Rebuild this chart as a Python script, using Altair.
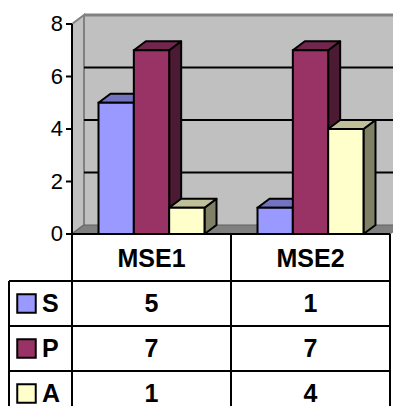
import altair as alt
import pandas as pd

# ---- data ----
categories = ["MSE1", "MSE2"]
series = ["S", "P", "A"]
s_values = [5, 1]
p_values = [7, 7]
a_values = [1, 4]
y_ticks = [0, 2, 4, 6, 8]
grid_values = [2, 4, 6]

values = {"S": s_values, "P": p_values, "A": a_values}

# ---- styles ----
front_colors = {"S": "#9999FF", "P": "#993366", "A": "#FFFFCC"}
top_colors = {"S": "#7373BF", "P": "#73264D", "A": "#BFBF99"}
side_colors = {"S": "#4D4D80", "P": "#4D1A33", "A": "#808066"}
FONT = "Liberation Sans"

# ---- layout (page pixel frame) ----
W, H = 385, 398
K = 26.25          # px per value unit
Y0 = 234           # page y of value 0
PLOT_L, PLOT_R = 72, 390
DX, DY = 12, 9     # 3-D depth in px
COL_W = (PLOT_R - PLOT_L) / len(categories)
BW = 35.33
TABLE_L = 9
HEADER_TOP = 234
HEADER_BOT = 281
ROW_H = 45


def yv(ypx):
    return (Y0 - ypx) / K


D = DY / K
TOPV = max(y_ticks)

xs = alt.Scale(domain=[8, 8 + W], nice=False, zero=False)
ys = alt.Scale(domain=[yv(8 + H), yv(8)], nice=False, zero=False)


def X(f="x"):
    return alt.X(f"{f}:Q", scale=xs, axis=None)


def Y(f="y"):
    return alt.Y(f"{f}:Q", scale=ys, axis=None)


# ---- walls ----
back = alt.Chart(pd.DataFrame([{"x": PLOT_L + DX, "x2": PLOT_R + DX + 20, "y": D, "y2": TOPV + D}])).mark_rect(
    color="#C0C0C0").encode(x=X(), x2="x2:Q", y=Y(), y2="y2:Q")

left_wall = alt.Chart(pd.DataFrame([
    {"x": PLOT_L, "y": TOPV, "y2": 0},
    {"x": PLOT_L + DX, "y": TOPV + D, "y2": D},
])).mark_area(orient="vertical", color="#C0C0C0", stroke="#808080", strokeWidth=2).encode(
    x=X(), y=Y(), y2="y2:Q")

floor = alt.Chart(pd.DataFrame([
    {"y": 0, "x": PLOT_L, "x2": PLOT_R},
    {"y": D, "x": PLOT_L + DX, "x2": PLOT_R + DX},
])).mark_area(orient="horizontal", color="#808080", stroke="#606060", strokeWidth=1).encode(
    y=Y(), x=X(), x2="x2:Q")

wall_top = alt.Chart(pd.DataFrame([{"x": PLOT_L + DX, "x2": PLOT_R + DX + 20, "y": TOPV + D}])).mark_rule(
    color="#808080", strokeWidth=3).encode(x=X(), x2="x2:Q", y=Y())

grid = alt.Chart(pd.DataFrame({"v": grid_values})).transform_calculate(
    y=f"datum.v + {D}", x=f"{PLOT_L + DX}", x2=f"{PLOT_R + DX + 20}"
).mark_rule(color="black", strokeWidth=2).encode(x=X(), x2="x2:Q", y=Y())

# ---- bars ----
fronts, sides, tops = [], [], []
for i, cat in enumerate(categories):
    cx = PLOT_L + COL_W * (i + 0.5)
    for j, s in enumerate(series):
        v = values[s][i]
        l = cx - 1.5 * BW + j * BW
        r = l + BW
        bid = f"{cat}-{s}"
        fronts.append({"id": bid, "x": l, "x2": r, "y": 0, "y2": v, "fill": front_colors[s]})
        sides.append({"id": bid, "x": r, "y": v, "y2": 0, "fill": side_colors[s]})
        sides.append({"id": bid, "x": r + DX, "y": v + D, "y2": D, "fill": side_colors[s]})
        tops.append({"id": bid, "y": v, "x": l, "x2": r, "fill": top_colors[s]})
        tops.append({"id": bid, "y": v + D, "x": l + DX, "x2": r + DX, "fill": top_colors[s]})

side_layer = alt.Chart(pd.DataFrame(sides)).mark_area(
    orient="vertical", stroke="black", strokeWidth=2, strokeJoin="round").encode(
    x=X(), y=Y(), y2="y2:Q", fill=alt.Fill("fill:N", scale=None), detail="id:N")

top_layer = alt.Chart(pd.DataFrame(tops)).mark_area(
    orient="horizontal", stroke="black", strokeWidth=2, strokeJoin="round").encode(
    y=Y(), x=X(), x2="x2:Q", fill=alt.Fill("fill:N", scale=None), detail="id:N")

front_layer = alt.Chart(pd.DataFrame(fronts)).mark_rect(stroke="black", strokeWidth=2).encode(
    x=X(), x2="x2:Q", y=Y(), y2="y2:Q", fill=alt.Fill("fill:N", scale=None))

# ---- axis ----
base_line = alt.Chart(pd.DataFrame([{"x": PLOT_L, "x2": PLOT_R, "y": 0}])).mark_rule(
    color="black", strokeWidth=2).encode(x=X(), x2="x2:Q", y=Y())

axis_line = alt.Chart(pd.DataFrame([{"x": PLOT_L, "y": TOPV, "y2": yv(8 + H)}])).mark_rule(
    color="black", strokeWidth=2).encode(x=X(), y=Y(), y2="y2:Q")

ticks = alt.Chart(pd.DataFrame({"y": y_ticks})).transform_calculate(
    x=f"{PLOT_L - 6}", x2=f"{PLOT_L}").mark_rule(color="black", strokeWidth=2).encode(
    x=X(), x2="x2:Q", y=Y())

tick_labels = alt.Chart(pd.DataFrame({"y": y_ticks})).transform_calculate(
    x=f"{PLOT_L - 9}").mark_text(align="right", baseline="middle", font=FONT, fontSize=22).encode(
    x=X(), y=Y(), text="y:Q")

# ---- data table ----
hlines = []
for k in range(len(series)):
    hlines.append({"x": TABLE_L, "x2": PLOT_R, "y": yv(HEADER_BOT + k * ROW_H)})
table_h = alt.Chart(pd.DataFrame(hlines)).mark_rule(color="black", strokeWidth=2).encode(
    x=X(), x2="x2:Q", y=Y())

vlines = [{"x": TABLE_L, "y": yv(HEADER_BOT), "y2": yv(8 + H)}]
for i in range(len(categories)):
    vlines.append({"x": PLOT_L + COL_W * (i + 1), "y": yv(HEADER_TOP), "y2": yv(8 + H)})
table_v = alt.Chart(pd.DataFrame(vlines)).mark_rule(color="black", strokeWidth=2).encode(
    x=X(), y=Y(), y2="y2:Q")

header_rows = [{"x": PLOT_L + COL_W * (i + 0.5), "y": yv((HEADER_TOP + HEADER_BOT) / 2 + 1), "t": c}
               for i, c in enumerate(categories)]
cell_rows = []
legend_rows = []
for k, s in enumerate(series):
    cy = yv(HEADER_BOT + k * ROW_H + ROW_H / 2)
    legend_rows.append({"x": 26.5, "xt": 42, "y": cy, "t": s, "fill": front_colors[s]})
    for i, c in enumerate(categories):
        cell_rows.append({"x": PLOT_L + COL_W * (i + 0.5), "y": cy, "t": str(values[s][i])})

txt = dict(font=FONT, fontSize=25, fontWeight="bold", baseline="middle")
header_text = alt.Chart(pd.DataFrame(header_rows)).mark_text(align="center", **txt).encode(
    x=X(), y=Y(), text="t:N")
cell_text = alt.Chart(pd.DataFrame(cell_rows)).mark_text(align="center", **txt).encode(
    x=X(), y=Y(), text="t:N")
legend_text = alt.Chart(pd.DataFrame(legend_rows)).mark_text(align="left", **txt).encode(
    x=X("xt"), y=Y(), text="t:N")
legend_sq = alt.Chart(pd.DataFrame(legend_rows)).mark_square(
    size=342, filled=True, stroke="black", strokeWidth=2, opacity=1).encode(
    x=X(), y=Y(), fill=alt.Fill("fill:N", scale=None))

chart = alt.layer(
    back, left_wall, floor, wall_top, grid,
    side_layer, top_layer, front_layer,
    base_line, axis_line, ticks, tick_labels,
    table_h, table_v, header_text, cell_text, legend_text, legend_sq,
).properties(width=W, height=H, padding=0, autosize="none").configure_view(stroke=None)

chart.save("out.html", embed_options={"renderer": "svg", "actions": False})
